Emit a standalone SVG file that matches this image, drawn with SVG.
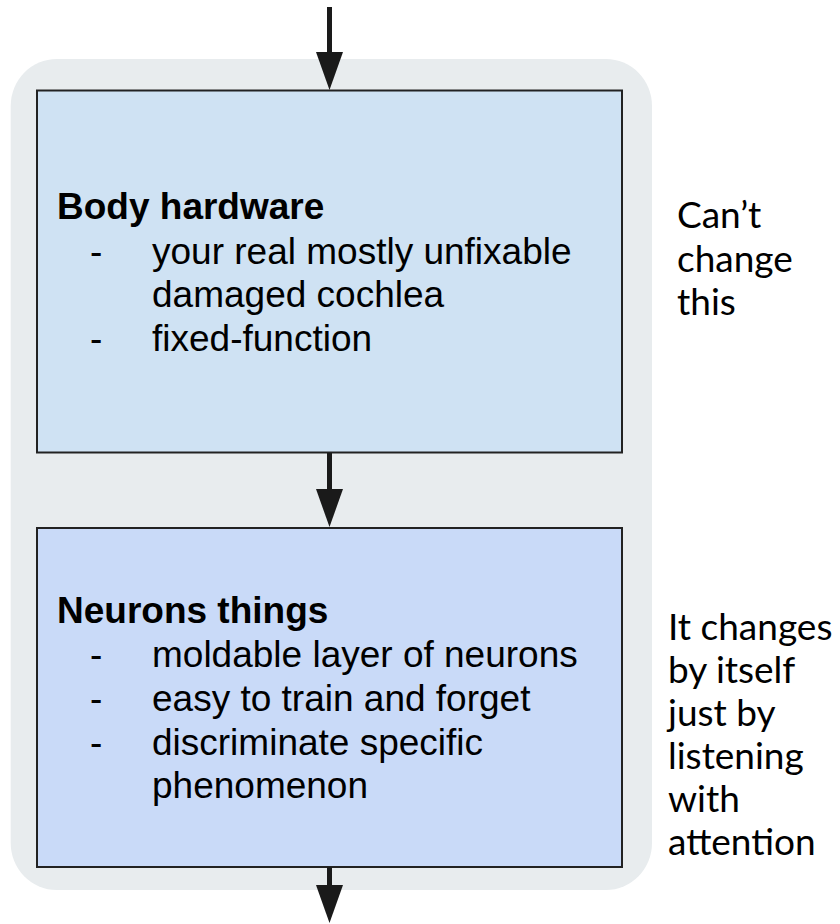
<svg xmlns="http://www.w3.org/2000/svg" width="840" height="924" viewBox="0 0 840 924">
  <defs>
    <style>
      .box { stroke: #222; stroke-width: 2; }
      .title { font-family: "Liberation Sans", Arial, sans-serif; font-weight: bold; font-size: 37px; fill: #000; }
      .item { font-family: "Liberation Sans", Arial, sans-serif; font-size: 37px; fill: #000; }
      .side { font-family: Lato, "Noto Sans", sans-serif; font-size: 37px; fill: #000; }
      .conn { stroke: #1a1a1a; stroke-width: 5; fill: none; }
      .head { fill: #1a1a1a; }
    </style>
  </defs>
  <rect width="840" height="924" fill="#ffffff"/>
  <g id="container">
    <rect x="10.7" y="59" width="641.3" height="831" rx="46" ry="47" fill="#e8ecee"/>
  </g>
  <g id="body-hardware">
    <rect class="box" x="37" y="90.5" width="585" height="362" fill="#cfe2f3"/>
    <text class="title" x="57" y="219">Body hardware</text>
    <text class="item" x="90" y="264">-</text>
    <text class="item" x="152" y="264">your real mostly unfixable</text>
    <text class="item" x="152" y="307">damaged cochlea</text>
    <text class="item" x="90" y="351">-</text>
    <text class="item" x="152" y="351">fixed-function</text>
  </g>
  <g id="neurons-things">
    <rect class="box" x="37" y="528" width="585" height="339" fill="#c9daf8"/>
    <text class="title" x="57" y="623">Neurons things</text>
    <text class="item" x="90" y="667">-</text>
    <text class="item" x="152" y="667">moldable layer of neurons</text>
    <text class="item" x="90" y="711">-</text>
    <text class="item" x="152" y="711">easy to train and forget</text>
    <text class="item" x="90" y="755">-</text>
    <text class="item" x="152" y="755">discriminate specific</text>
    <text class="item" x="152" y="798">phenomenon</text>
  </g>
  <g id="note-cant-change">
    <text class="side" x="677" y="228">Can’t</text>
    <text class="side" x="677" y="272">change</text>
    <text class="side" x="677" y="315">this</text>
  </g>
  <g id="note-changes">
    <text class="side" x="668" y="640">It changes</text>
    <text class="side" x="668" y="683">by itself</text>
    <text class="side" x="668" y="726">just by</text>
    <text class="side" x="668" y="769">listening</text>
    <text class="side" x="668" y="812">with</text>
    <text class="side" x="668" y="855">attention</text>
  </g>
  <g id="connectors">
    <line class="conn" x1="329.5" y1="7" x2="329.5" y2="54"/>
    <polygon class="head" points="316,52 343,52 329.5,90"/>
    <line class="conn" x1="329.5" y1="453" x2="329.5" y2="491"/>
    <polygon class="head" points="316,489 343,489 329.5,527"/>
    <line class="conn" x1="329.5" y1="867" x2="329.5" y2="887"/>
    <polygon class="head" points="316,885 343,885 329.5,923"/>
  </g>
</svg>
